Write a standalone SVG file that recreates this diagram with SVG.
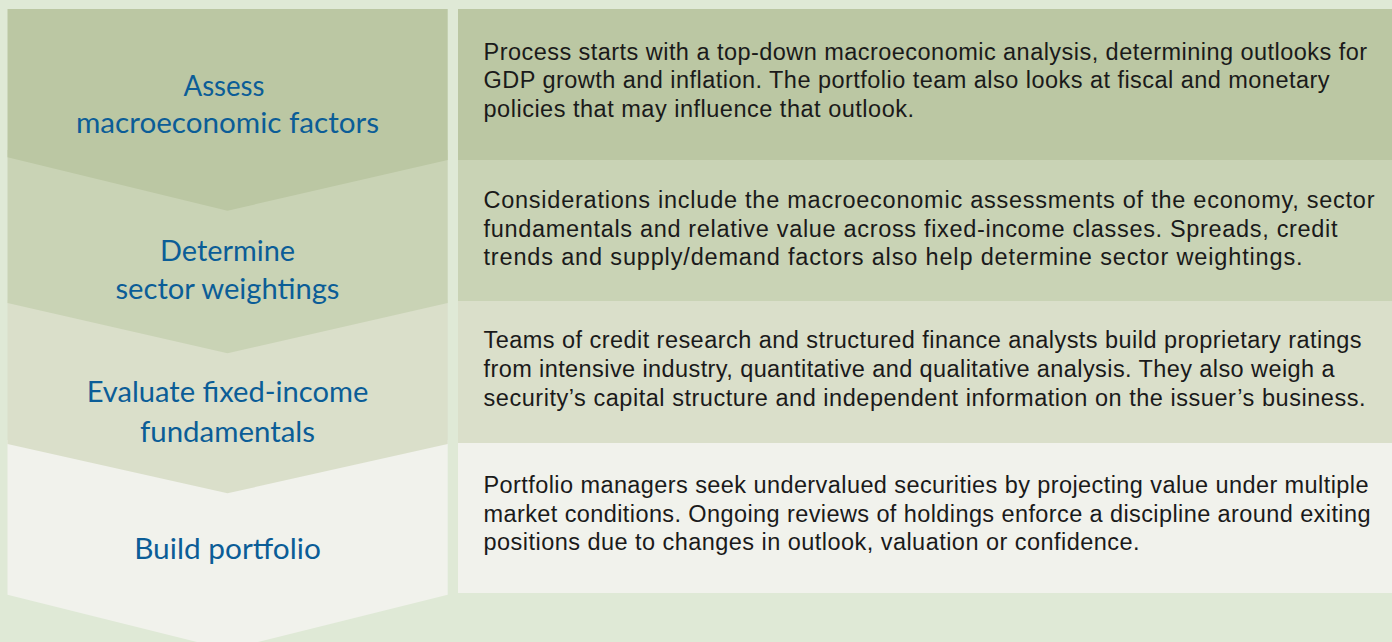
<svg xmlns="http://www.w3.org/2000/svg" width="1392" height="642" viewBox="0 0 1392 642">
  <style>
    .step { font-family: Lato, "Open Sans", "DejaVu Sans", sans-serif; font-size: 29px; fill: #0b5d97; text-anchor: middle; }
    .desc { font-family: "Liberation Sans", Arial, sans-serif; font-size: 23.5px; fill: #1a1a1a; }
    .t1 { fill: #bbc7a3; }
    .t2 { fill: #c9d3b5; }
    .t3 { fill: #dadfca; }
    .t4 { fill: #f1f2ec; }
  </style>

  <!-- page background -->
  <rect x="0" y="0" width="1392" height="642" fill="#dfe9d6"/>

  <!-- description bands on the right -->
  <g id="descriptions">
    <g id="desc-macro">
      <rect class="t1" x="458" y="9" width="934" height="151"/>
      <text class="desc" x="483.5" y="59.5" textLength="883.5" lengthAdjust="spacing">Process starts with a top-down macroeconomic analysis, determining outlooks for</text>
      <text class="desc" x="483.5" y="88.3" textLength="846" lengthAdjust="spacing">GDP growth and inflation. The portfolio team also looks at fiscal and monetary</text>
      <text class="desc" x="483.5" y="117.2" textLength="430.5" lengthAdjust="spacing">policies that may influence that outlook.</text>
    </g>
    <g id="desc-sector">
      <rect class="t2" x="458" y="160" width="934" height="141"/>
      <text class="desc" x="483.5" y="208.3" textLength="891" lengthAdjust="spacing">Considerations include the macroeconomic assessments of the economy, sector</text>
      <text class="desc" x="483.5" y="236.7" textLength="854" lengthAdjust="spacing">fundamentals and relative value across fixed-income classes. Spreads, credit</text>
      <text class="desc" x="483.5" y="265.1" textLength="819" lengthAdjust="spacing">trends and supply/demand factors also help determine sector weightings.</text>
    </g>
    <g id="desc-fundamentals">
      <rect class="t3" x="458" y="301" width="934" height="142"/>
      <text class="desc" x="483.5" y="347.8" textLength="878" lengthAdjust="spacing">Teams of credit research and structured finance analysts build proprietary ratings</text>
      <text class="desc" x="483.5" y="376.7" textLength="851" lengthAdjust="spacing">from intensive industry, quantitative and qualitative analysis. They also weigh a</text>
      <text class="desc" x="483.5" y="405.7" textLength="882" lengthAdjust="spacing">security’s capital structure and independent information on the issuer’s business.</text>
    </g>
    <g id="desc-portfolio">
      <rect class="t4" x="458" y="443" width="934" height="150"/>
      <text class="desc" x="483.5" y="493.3" textLength="885" lengthAdjust="spacing">Portfolio managers seek undervalued securities by projecting value under multiple</text>
      <text class="desc" x="483.5" y="521.7" textLength="887" lengthAdjust="spacing">market conditions. Ongoing reviews of holdings enforce a discipline around exiting</text>
      <text class="desc" x="483.5" y="550" textLength="656" lengthAdjust="spacing">positions due to changes in outlook, valuation or confidence.</text>
    </g>
  </g>

  <!-- stacked downward chevrons: drawn bottom-up so each one overlaps the next -->
  <g id="steps">
    <g id="step-portfolio">
      <polygon class="t4" points="7.5,440 447.7,440 447.7,594.7 227.5,649.6 7.5,594.7"/>
      <text class="step" x="227.5" y="559" textLength="186.7" lengthAdjust="spacingAndGlyphs">Build portfolio</text>
    </g>
    <g id="step-fundamentals">
      <polygon class="t3" points="7.5,300 447.7,300 447.7,444 227.5,493.3 7.5,444"/>
      <text class="step" x="227.5" y="402.3" textLength="281.7" lengthAdjust="spacingAndGlyphs">Evaluate fixed-income</text>
      <text class="step" x="227.5" y="441.7" textLength="175" lengthAdjust="spacingAndGlyphs">fundamentals</text>
    </g>
    <g id="step-sector">
      <polygon class="t2" points="7.5,150 447.7,150 447.7,303 227.5,353.3 7.5,303"/>
      <text class="step" x="227.5" y="261" textLength="135" lengthAdjust="spacingAndGlyphs">Determine</text>
      <text class="step" x="227.5" y="299" textLength="224" lengthAdjust="spacingAndGlyphs">sector weightings</text>
    </g>
    <g id="step-macro">
      <polygon class="t1" points="7.5,9 447.7,9 447.7,160 227.5,210.7 7.5,157.3"/>
      <text class="step" x="224" y="95.7" textLength="81" lengthAdjust="spacingAndGlyphs">Assess</text>
      <text class="step" x="227.5" y="133.3" textLength="303" lengthAdjust="spacingAndGlyphs">macroeconomic factors</text>
    </g>
  </g>

  <!-- no connectors: the chevron shapes carry the flow -->
  <g id="connectors"/>
</svg>
